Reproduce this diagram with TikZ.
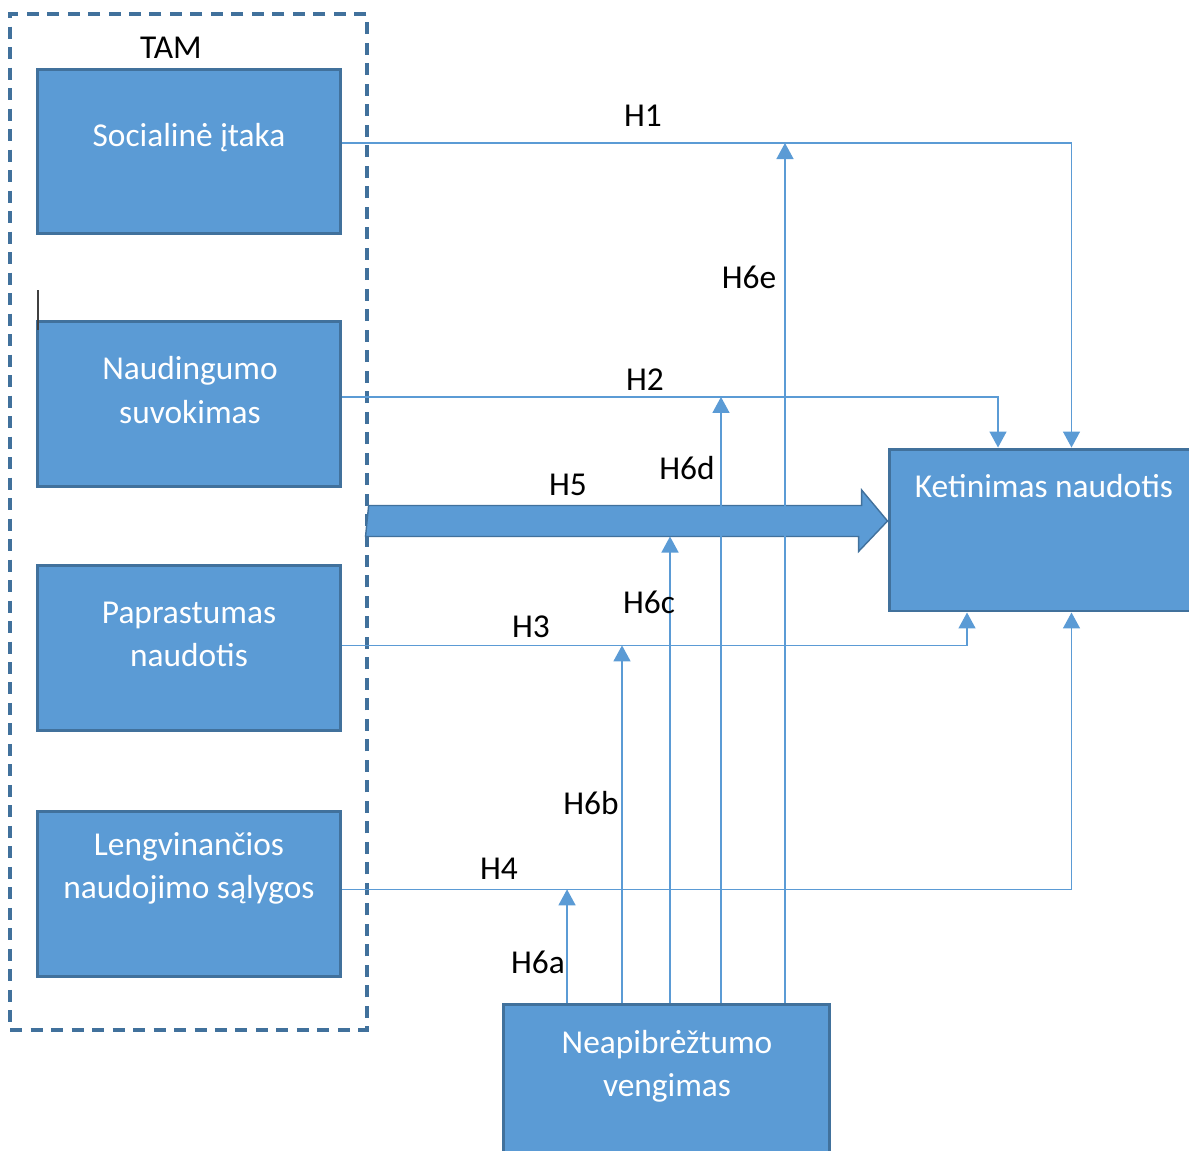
\documentclass[tikz,border=0pt]{standalone}
\usepackage{fontspec}
\setmainfont{Carlito}
\usetikzlibrary{arrows.meta, positioning}
\definecolor{boxblue}{HTML}{5B9BD5}
\definecolor{edgeblue}{HTML}{41719C}

\begin{document}
\begin{tikzpicture}[
    x=0.02cm, y=-0.02cm,
    every node/.style={font=\fontsize{19}{24.5}\selectfont},
    factor/.style={rectangle, draw=edgeblue, fill=boxblue, line width=1.7pt,
        minimum width=6.08cm, minimum height=3.3cm},
    factortext/.style={text=white, align=center, inner sep=0pt},
    tamframe/.style={rectangle, draw=edgeblue, line width=1.9pt,
        dash pattern=on 0.24cm off 0.17cm, minimum width=7.14cm, minimum height=20.32cm},
    conn/.style={draw=boxblue, line width=0.85pt},
    hyp/.style={conn, -{Triangle[width=0.34cm, length=0.32cm]}},
    bigarrow/.style={fill=boxblue, draw=edgeblue, line width=0.8pt},
    hlabel/.style={text=black, inner sep=0pt}
]
   \useasboundingbox (0,0) rectangle (1189,1150);

   % TAM group
   \node[tamframe] (tam) at (188.5,522) {};
   \node[hlabel] (tamt) at (171,48) {TAM};

   % Factor boxes
   \node[factor] (soc) at (189,151.5) {};
   \node[factor] (nau) [below=1.70cm of soc] {};
   \node[factor] (pap) [below=1.52cm of nau] {};
   \node[factor] (len) [below=1.56cm of pap] {};
   \node[factor, minimum width=6.06cm, minimum height=3.24cm] (ket) at (1040.5,530) {};
   \node[factor, minimum width=6.54cm, minimum height=3.32cm] (nea) at (666.5,1087) {};

   \node[factortext] (soct) at (189,138) {Socialinė įtaka};
   \node[factortext] (naut) at (190,390) {Naudingumo\\suvokimas};
   \node[factortext] (papt) at (189,634) {Paprastumas\\naudotis};
   \node[factortext] (lent) at (189,868) {Lengvinančios\\naudojimo sąlygos};
   \node[factortext] (kett) at (1044,486) {Ketinimas naudotis};
   \node[factortext] (neat) at (667,1066) {Neapibrėžtumo\\vengimas};

   % stray cursor mark
   \draw[black!75, line width=0.8pt] (38,290) -- (38,330);

   % H5 block arrow
   \coordinate (h5) at ([yshift=0.18cm]ket.west);
   \coordinate (h5s) at (tam.east |- h5);
   \draw[bigarrow] (h5s) ++(0,-15.5) -- ++(493,0) -- ++(0,-15.5) -- (h5)
       -- ++(-29,30.5) -- ++(0,-15) -- ++(-493,0) -- cycle;

   % Hypotheses H1-H4
   \coordinate (l1) at ([yshift=0.17cm]soc.east);
   \coordinate (l2) at ([yshift=0.15cm]nau.east);
   \coordinate (l3) at ([yshift=0.06cm]pap.east);
   \coordinate (l4) at ([yshift=0.1cm]len.east);
   \draw[hyp] (l1) -| ([xshift=0.62cm]ket.north);
   \draw[hyp] (l2) -| ([xshift=-0.85cm]ket.north);
   \draw[hyp] (l3) -| ([xshift=-1.47cm]ket.south);
   \draw[hyp] (l4) -| ([xshift=0.62cm]ket.south);

   % Moderation H6a-H6e
   \coordinate (n1) at ([xshift=-1.99cm]nea.north);
   \coordinate (n2) at ([xshift=-0.89cm]nea.north);
   \coordinate (n3) at ([xshift=0.07cm]nea.north);
   \coordinate (n4) at ([xshift=1.09cm]nea.north);
   \coordinate (n5) at ([xshift=2.37cm]nea.north);
   \coordinate (h5b) at ([yshift=-0.31cm]h5);
   \draw[hyp] (n1) -- (n1 |- l4);
   \draw[hyp] (n2) -- (n2 |- l3);
   \draw[hyp] (n3) -- (n3 |- h5b);
   \draw[hyp] (n4) -- (n4 |- l2);
   \draw[hyp] (n5) -- (n5 |- l1);

   % Labels
   \node[hlabel] (lh1) at (643,116) {H1};
   \node[hlabel] (lh2) at (645,380) {H2};
   \node[hlabel] (lh3) at (531,627) {H3};
   \node[hlabel] (lh4) at (499,869) {H4};
   \node[hlabel] (lh5) at (568,485) {H5};
   \node[hlabel] (lh6a) at (538,962) {H6a};
   \node[hlabel] (lh6b) at (591,803) {H6b};
   \node[hlabel] (lh6c) at (649,602) {H6c};
   \node[hlabel] (lh6d) at (687,468) {H6d};
   \node[hlabel] (lh6e) at (749,277) {H6e};
\end{tikzpicture}
\end{document}
